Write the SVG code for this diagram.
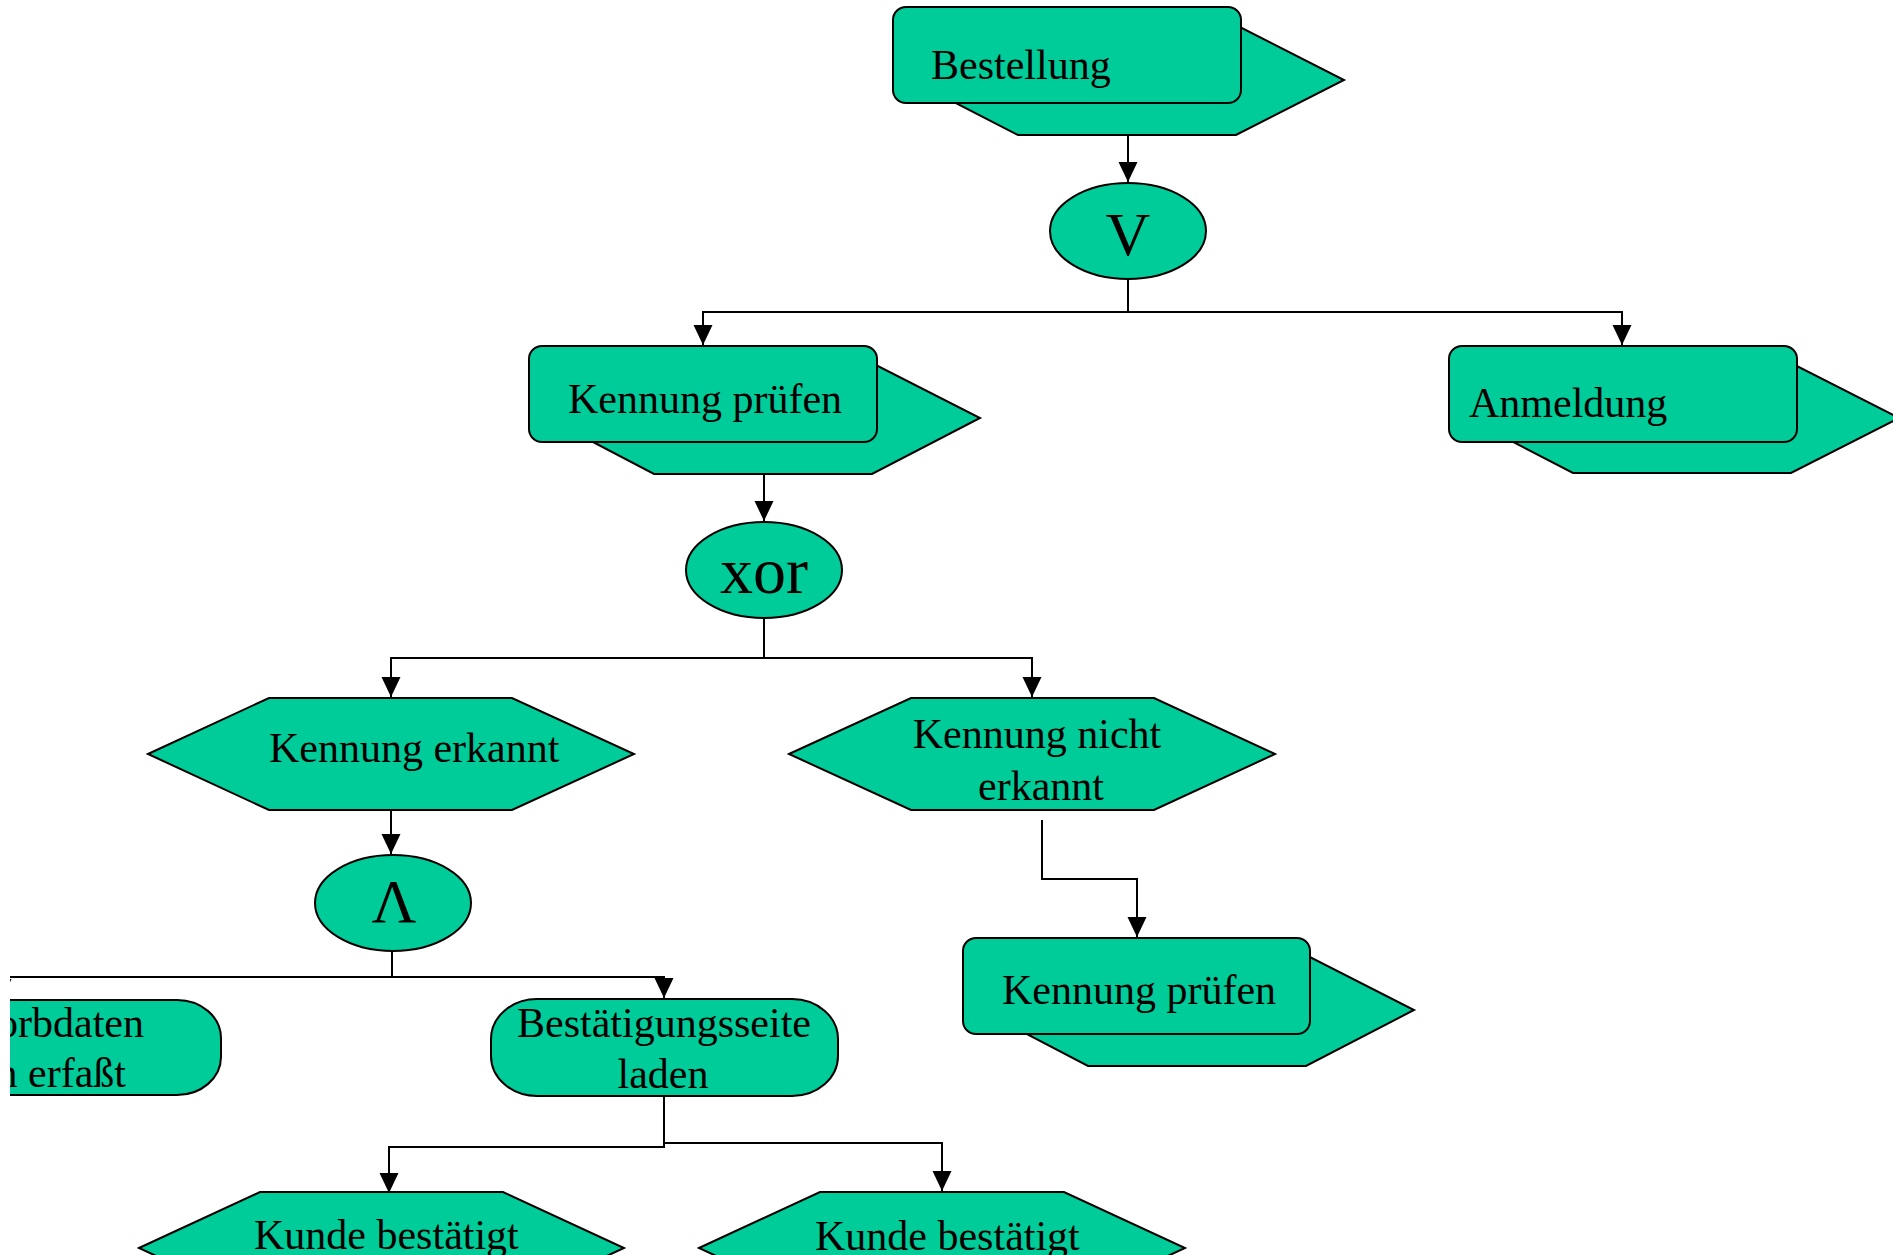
<svg xmlns="http://www.w3.org/2000/svg" width="1893" height="1255" viewBox="0 0 1893 1255">
<style>
.s{fill:#00CC99;stroke:#000;stroke-width:2;stroke-linejoin:miter}
.t{font-family:"Liberation Serif","Times New Roman",serif;font-size:42px;fill:#000}
.op{font-family:"Liberation Serif","Times New Roman",serif;fill:#000;text-anchor:middle}
.c{fill:none;stroke:#000;stroke-width:2}
</style>
<defs>
<marker id="ah" markerUnits="userSpaceOnUse" markerWidth="20" markerHeight="22" refX="10" refY="20" orient="0" viewBox="0 0 20 22">
<path d="M0.5,0 L19.5,0 L10,20 Z" fill="#000"/>
</marker>
<clipPath id="clipL"><rect x="10" y="0" width="1883" height="1255"/></clipPath>
</defs>
<rect width="1893" height="1255" fill="#fff"/>

<g id="connectors">
<path class="c" d="M1128,135 V182" marker-end="url(#ah)"/>
<path class="c" d="M1128,279 V312 H703 V345" marker-end="url(#ah)"/>
<path class="c" d="M1128,312 H1622 V345" marker-end="url(#ah)"/>
<path class="c" d="M764,474 V521" marker-end="url(#ah)"/>
<path class="c" d="M764,618 V658 H391 V697" marker-end="url(#ah)"/>
<path class="c" d="M764,658 H1032 V697" marker-end="url(#ah)"/>
<path class="c" d="M391,810 V854" marker-end="url(#ah)"/>
<g clip-path="url(#clipL)">
<path class="c" d="M392,951 V977 H2 V999" marker-end="url(#ah)"/>
</g>
<path class="c" d="M392,977 H664 V998" marker-end="url(#ah)"/>
<path class="c" d="M1042,820 V879 H1137 V937" marker-end="url(#ah)"/>
<path class="c" d="M664,1096 V1147 H389 V1193" marker-end="url(#ah)"/>
<path class="c" d="M664,1143 H942 V1191" marker-end="url(#ah)"/>
</g>

<g id="bestellung">
<polygon class="s" points="911,80 1018,25 1236,25 1344,80 1236,135 1018,135"/>
<rect class="s" x="893" y="7" width="348" height="96" rx="13" ry="13"/>
<text class="t" x="931" y="79">Bestellung</text>
</g>

<g id="op-or">
<ellipse class="s" cx="1128" cy="231" rx="78" ry="48"/>
<text class="op" x="1128" y="255" font-size="62">V</text>
</g>

<g id="kennung-pruefen-1">
<polygon class="s" points="547,418 654,363 872,363 980,418 872,474 654,474"/>
<rect class="s" x="529" y="346" width="348" height="96" rx="13" ry="13"/>
<text class="t" x="568" y="413">Kennung prüfen</text>
</g>

<g id="anmeldung">
<polygon class="s" points="1467,418 1573,363 1791,363 1899,418 1791,473 1573,473"/>
<rect class="s" x="1449" y="346" width="348" height="96" rx="13" ry="13"/>
<text class="t" x="1469" y="417">Anmeldung</text>
</g>

<g id="op-xor">
<ellipse class="s" cx="764" cy="570" rx="78" ry="48"/>
<text class="op" x="764" y="593" font-size="66">xor</text>
</g>

<g id="kennung-erkannt">
<polygon class="s" points="148,754 269,698 512,698 634,754 512,810 269,810"/>
<text class="t" x="269" y="762">Kennung erkannt</text>
</g>

<g id="kennung-nicht-erkannt">
<polygon class="s" points="789,754 911,698 1154,698 1275,754 1154,810 911,810"/>
<text class="t" x="1037" y="748" text-anchor="middle">Kennung nicht</text>
<text class="t" x="1041" y="800" text-anchor="middle">erkannt</text>
</g>

<g id="op-and">
<ellipse class="s" cx="393" cy="903" rx="78" ry="48"/>
<text class="op" x="394" y="922" font-size="62">Λ</text>
</g>

<g id="korbdaten" clip-path="url(#clipL)">
<rect class="s" x="-160" y="1000" width="381" height="95" rx="44" ry="38"/>
<text class="t" x="144" y="1037" text-anchor="end">orbdaten</text>
<text class="t" x="126" y="1087" text-anchor="end">n erfaßt</text>
</g>

<g id="bestaetigungsseite">
<rect class="s" x="491" y="999" width="347" height="97" rx="46" ry="40"/>
<text class="t" x="664" y="1037" text-anchor="middle">Bestätigungsseite</text>
<text class="t" x="663" y="1088" text-anchor="middle">laden</text>
</g>

<g id="kennung-pruefen-2">
<polygon class="s" points="981,1010 1088,955 1306,955 1414,1010 1306,1066 1088,1066"/>
<rect class="s" x="963" y="938" width="347" height="96" rx="13" ry="13"/>
<text class="t" x="1002" y="1004">Kennung prüfen</text>
</g>

<g id="kunde-bestaetigt-1">
<polygon class="s" points="139,1248 260,1192 503,1192 624,1248 503,1304 260,1304"/>
<text class="t" x="254" y="1249">Kunde bestätigt</text>
</g>

<g id="kunde-bestaetigt-2">
<polygon class="s" points="699,1248 820,1192 1064,1192 1185,1248 1064,1304 820,1304"/>
<text class="t" x="815" y="1250">Kunde bestätigt</text>
</g>
</svg>
